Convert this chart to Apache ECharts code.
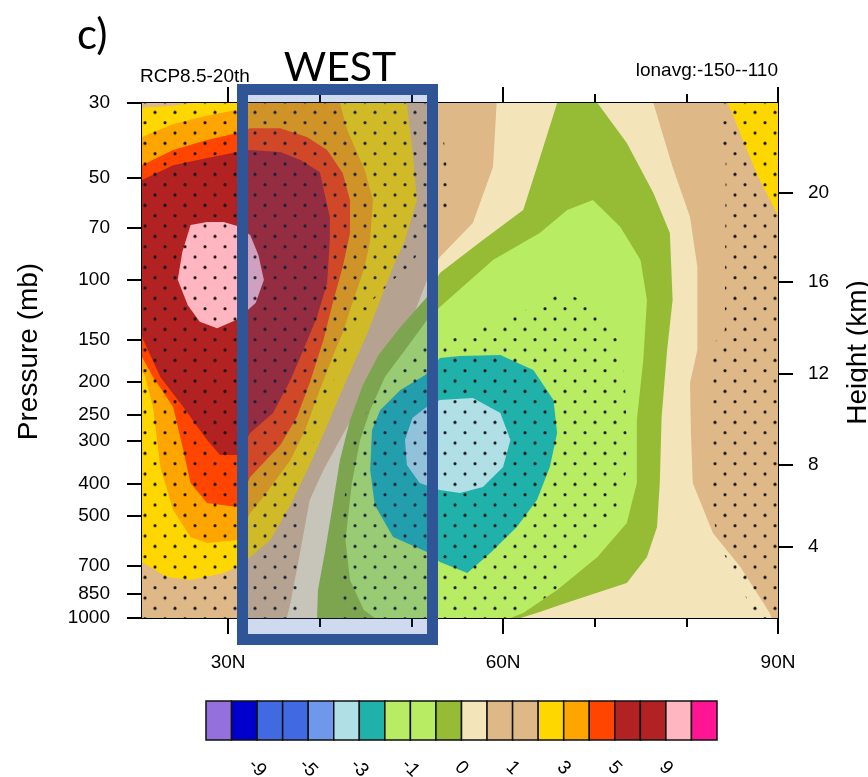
<!DOCTYPE html>
<html>
<head>
<meta charset="utf-8">
<title>RCP8.5-20th lonavg cross section</title>
<script src="https://cdn.jsdelivr.net/npm/echarts@6/dist/echarts.min.js"></script>
<style>
  html, body { margin: 0; padding: 0; background: #fff; }
  #chart { width: 868px; height: 777px; }
</style>
</head>
<body>
<div id="chart"></div>
<script>
// axis ticks
const pressureTicks = [30, 50, 70, 100, 150, 200, 250, 300, 400, 500, 700, 850, 1000];
const heightTicks = [4, 8, 12, 16, 20];
const heightTickPressure = [617, 353, 189, 101.5, 55.4]; // where each km tick sits (mb)
const latMajor = [30, 60, 90];
const latMinor = [40, 50, 70, 80];

// contour levels and the 20 fill colours of the label bar
const levels = [-11, -9, -7, -5, -4, -3, -2, -1, -0.5, 0, 0.5, 1, 2, 3, 4, 5, 7, 9, 11];
const fillColors = [
  '#9370DB', '#0000CD', '#4169E1', '#4169E1', '#6F98EC', '#B0E0E6', '#20B2AA',
  '#B8EC62', '#B8EC62', '#95BC34', '#F4E4BA', '#DEB887', '#DEB887', '#FFD700',
  '#FFA500', '#FF4500', '#B22222', '#B22222', '#FFB6C1', '#FF1493'
];

// filled contour regions, [lat, pressure mb]
const regionBase = [[20.6, 30], [90, 30], [90, 1000], [20.6, 1000]];
const regionWheat = [[59.3, 30], [76.4, 30], [78.5, 46.4], [80.4, 65.2], [81.2, 91.6], [81.2, 161.3],
  [80.4, 201.9], [80.5, 283.8], [80.7, 398.9], [82.9, 560.7], [85.9, 706.7], [89.1, 966.6], [89.3, 1000],
  [36.4, 1000], [36.8, 902.6], [37.9, 629.5], [38.9, 447.8], [40.4, 365.1], [42.0, 303.8], [44.6, 226.7],
  [47.7, 161.3], [49.5, 143.6], [51.7, 100.1], [53.1, 85.6], [56.7, 67.9], [58.9, 46.4]];
const regionYellowGreen = [[65.9, 30], [70.3, 30], [73.5, 39.4], [76.4, 55.4], [78.2, 72.7], [78.5, 114.7],
  [77.9, 161.3], [77.3, 254.5], [77.1, 398.9], [76.8, 538.3], [75.7, 660.2], [73.5, 788.1], [69.5, 855.1],
  [66.2, 915.4], [64.0, 960.1], [61.9, 1000], [39.7, 1000], [39.8, 826.5], [40.6, 629.5], [41.5, 447.8],
  [42.2, 341.0], [43.3, 259.7], [44.7, 204.6], [46.4, 166.8], [48.8, 137.9], [51.7, 112.4], [53.1, 95.5],
  [57.8, 76.2], [62.2, 62.2], [63.7, 46.4]];
const regionLightGreen = [[53.1, 120.3], [58.9, 87.4], [64.0, 72.7], [67.0, 62.2], [69.8, 58.1], [72.8, 69.8],
  [75.0, 87.4], [75.7, 114.7], [75.3, 172.6], [74.6, 259.7], [74.6, 398.9], [73.5, 523.8], [70.3, 660.2],
  [65.9, 826.5], [62.2, 966.6], [60.8, 1000], [46.0, 1000], [44.8, 947.1], [43.3, 772.1], [42.8, 588.0],
  [43.5, 398.9], [44.4, 297.6], [45.5, 242.6], [47.1, 193.8], [49.3, 161.3], [51.7, 131.5]];
const regionTeal = [[46.6, 242.6], [48.8, 211.7], [51.5, 191.2], [53.1, 170.3], [55.3, 168.0], [59.7, 166.8],
  [63.3, 184.8], [65.5, 226.7], [65.9, 283.8], [65.1, 357.7], [63.7, 447.8], [61.5, 538.3], [58.6, 642.5],
  [56.1, 736.2], [53.1, 683.1], [51.7, 638.1], [48.0, 576.2], [46.0, 463.3], [45.5, 365.1], [45.7, 278.0]];
const regionPowderBlue = [[49.3, 297.6], [50.1, 256.2], [51.5, 239.4], [53.1, 226.7], [56.7, 223.6],
  [59.7, 247.6], [60.8, 297.6], [60.0, 357.7], [57.8, 409.9], [55.3, 427.0], [53.1, 418.3], [50.9, 398.9],
  [49.5, 352.8]];
const regionGold = [[20.6, 31.0], [23.7, 30.6], [26.2, 30], [49.5, 30], [50.1, 41.3], [50.6, 58.1],
  [49.3, 76.2], [48.0, 91.6], [46.6, 114.7], [45.2, 143.6], [43.9, 172.6], [42.2, 219.1], [40.6, 278.0],
  [38.9, 352.8], [36.8, 463.3], [34.6, 588.0], [32.4, 660.2], [31.0, 706.7], [29.5, 736.2], [25.9, 772.1],
  [23.3, 756.5], [20.6, 683.1]];
const regionOrange = [[20.6, 37.8], [24.0, 34.6], [27.7, 32.7], [31.0, 31.4], [32.4, 30], [42.2, 30],
  [43.0, 36.1], [44.9, 47.3], [45.8, 58.1], [45.5, 76.2], [44.9, 91.6], [43.3, 122.8], [42.5, 143.6],
  [41.7, 161.3], [40.0, 211.7], [38.4, 278.0], [36.8, 341.0], [34.0, 432.8], [32.4, 489.3], [31.0, 588.0],
  [27.7, 600.2], [25.9, 576.2], [24.0, 479.4], [22.6, 357.7], [21.8, 237.7], [20.9, 191.2], [20.6, 187.3]];
const regionOrangeRed = [[20.6, 45.8], [24.0, 41.3], [27.7, 38.6], [31.0, 36.8], [32.4, 35.6], [35.7, 35.6],
  [38.6, 37.8], [40.8, 41.3], [42.5, 48.3], [43.3, 58.1], [43.3, 72.7], [42.5, 91.6], [41.5, 114.7],
  [40.4, 150.6], [38.9, 201.9], [37.5, 254.5], [35.7, 307.9], [32.4, 382.9], [31.0, 469.7], [27.7, 457.1],
  [25.9, 398.9], [25.1, 318.6], [24.0, 237.7], [21.8, 193.8], [20.6, 169.1]];
const regionFirebrick = [[20.6, 50.7], [24.0, 45.8], [27.7, 43.6], [31.0, 41.9], [32.4, 41.3], [35.7, 41.9],
  [37.9, 44.2], [40.0, 48.0], [41.1, 65.2], [41.1, 76.2], [40.8, 102.2], [39.7, 128.8], [38.2, 161.3],
  [36.8, 197.8], [34.9, 247.6], [32.4, 283.8], [31.0, 329.6], [29.1, 329.6], [27.7, 297.6], [25.1, 237.7],
  [22.6, 193.8], [21.5, 166.8], [20.6, 147.6]];
const regionPink = [[25.9, 68.8], [27.7, 67.5], [29.5, 67.5], [31.0, 69.3], [32.4, 73.7], [33.3, 84.5],
  [33.9, 100.1], [33.0, 117.0], [31.0, 131.0], [28.8, 139.0], [26.9, 133.0], [25.6, 119.0], [24.5, 100.0],
  [25.0, 82.7]];
const regionGoldNE = [[84.5, 30], [90, 30], [90, 64.3], [88.0, 50.7], [86.6, 41.3], [85.3, 33.7]];

// stippled (significant) areas
const stippleWest = [[20.6, 30], [53.1, 30], [53.9, 47.3], [53.9, 64.3], [52.0, 73.7], [49.9, 90.4],
  [48.0, 100.1], [45.8, 114.7], [43.6, 150.6], [42.5, 184.8], [41.5, 197.8], [40.4, 242.6], [39.3, 303.8],
  [38.2, 348.1], [37.9, 447.8], [37.6, 1000], [20.6, 1000]];
const stippleCentral = [[66.5, 109.4], [68.7, 114.7], [71.1, 133.3], [72.5, 150.6], [73.3, 197.8],
  [73.5, 283.8], [73.4, 372.6], [72.4, 469.7], [70.3, 549.3], [68.1, 629.5], [66.9, 697.2], [65.8, 826.5],
  [62.4, 960.1], [60.2, 1000], [42.2, 1000], [42.2, 608.4], [43.3, 303.8], [44.9, 251.0], [47.1, 204.6],
  [48.8, 184.8], [50.7, 161.3], [54.2, 146.6], [57.5, 138.8], [60.8, 129.7], [64.0, 117.1]];
const stippleEast = [[83.9, 30], [90, 30], [90, 1000], [87.7, 1000], [85.5, 772.1], [83.9, 629.5],
  [82.8, 496.0], [82.4, 161.3], [84.2, 140.7], [84.3, 41.3], [83.1, 34.8]];

const fieldRegions = [
  { band: 12, pts: regionBase },
  { band: 10, pts: regionWheat },
  { band: 9, pts: regionYellowGreen },
  { band: 8, pts: regionLightGreen },
  { band: 6, pts: regionTeal },
  { band: 5, pts: regionPowderBlue },
  { band: 13, pts: regionGold },
  { band: 14, pts: regionOrange },
  { band: 15, pts: regionOrangeRed },
  { band: 16, pts: regionFirebrick },
  { band: 18, pts: regionPink },
  { band: 13, pts: regionGoldNE }
];
const stippleRegions = [stippleWest, stippleCentral, stippleEast];

const fontFamily = '"Liberation Sans", Arial, sans-serif';
const lp = (p) => Math.log10(p);

// dot tile for stippling (staggered, 20px x 10.33px)
const dotTile = document.createElement('canvas');
dotTile.width = 20;
dotTile.height = 62;
const tctx = dotTile.getContext('2d');
tctx.fillStyle = '#111';
for (let i = 0; i < 6; i++) {
  tctx.beginPath();
  tctx.arc(i % 2 ? 15 : 5, 5.17 + i * 62 / 6, 1.55, 0, Math.PI * 2);
  tctx.fill();
}

const chart = echarts.init(document.getElementById('chart'));

const blackLine = { show: true, lineStyle: { color: '#000', width: 2 } };
const noSplit = { show: false };

function latAxis(position, ticks, len, withLabels) {
  return {
    gridIndex: 0, type: 'value', min: 20.6, max: 90, position: position,
    axisLine: blackLine, splitLine: noSplit,
    axisTick: { show: true, customValues: ticks, length: len, lineStyle: { color: '#000', width: 2 } },
    axisLabel: withLabels
      ? { show: true, customValues: ticks, formatter: (v) => v + 'N', fontSize: 19, color: '#000', margin: 35, fontFamily: fontFamily }
      : { show: false }
  };
}

const option = {
  animation: false,
  backgroundColor: '#fff',
  textStyle: { fontFamily: fontFamily },
  grid: [
    { left: 142, top: 103, width: 636, height: 515, outerBoundsMode: 'none', containLabel: false },
    { left: 206, top: 701, width: 511, height: 39, outerBoundsMode: 'none', containLabel: false }
  ],
  xAxis: [
    latAxis('bottom', latMajor, 16, true),
    latAxis('bottom', latMinor, 9, false),
    latAxis('top', latMajor, 16, false),
    latAxis('top', latMinor, 9, false),
    {
      gridIndex: 1, type: 'value', min: 0, max: 20,
      axisLine: { show: false }, axisTick: { show: false }, splitLine: noSplit,
      axisLabel: {
        customValues: [2, 4, 6, 8, 10, 12, 14, 16, 18],
        formatter: (v) => String(levels[Math.round(v) - 1]),
        rotate: -45, align: 'center', verticalAlign: 'middle',
        margin: 28, fontSize: 19, color: '#000', fontFamily: fontFamily
      }
    }
  ],
  yAxis: [
    {
      gridIndex: 0, type: 'value', inverse: true, min: lp(30), max: lp(1000), position: 'left',
      axisLine: blackLine, splitLine: noSplit,
      axisTick: { customValues: pressureTicks.map(lp), length: 15, lineStyle: { color: '#000', width: 2 } },
      axisLabel: {
        customValues: pressureTicks.map(lp),
        formatter: (v) => String(Math.round(Math.pow(10, v))),
        fontSize: 19, color: '#000', margin: 32, fontFamily: fontFamily
      },
      name: 'Pressure (mb)', nameLocation: 'middle', nameGap: 99,
      nameTextStyle: { fontSize: 28, color: '#000', fontFamily: fontFamily, padding: [0, 0, 0, 18] }
    },
    {
      gridIndex: 0, type: 'value', inverse: true, min: lp(30), max: lp(1000), position: 'right',
      axisLine: blackLine, splitLine: noSplit,
      axisTick: { customValues: heightTickPressure.map(lp), length: 15, lineStyle: { color: '#000', width: 2 } },
      axisLabel: {
        customValues: heightTickPressure.map(lp),
        formatter: (v) => {
          const i = heightTickPressure.findIndex((p) => Math.abs(lp(p) - v) < 1e-6);
          return i < 0 ? '' : String(heightTicks[i]);
        },
        fontSize: 19, color: '#000', margin: 30, fontFamily: fontFamily
      },
      name: 'Height (km)', nameLocation: 'middle', nameGap: 66,
      nameTextStyle: { fontSize: 28, color: '#000', fontFamily: fontFamily, padding: [0, 0, 0, 16] }
    },
    { gridIndex: 1, type: 'value', min: 0, max: 1, show: false }
  ],
  series: [
    {
      // shaded contour regions
      type: 'custom', xAxisIndex: 0, yAxisIndex: 0, clip: true, silent: true, z: 2,
      data: fieldRegions.map((r, i) => [r.pts[0][0], lp(r.pts[0][1]), i]),
      renderItem: (params, api) => {
        const r = fieldRegions[params.dataIndex];
        return {
          type: 'polygon',
          shape: { points: r.pts.map((pt) => api.coord([pt[0], lp(pt[1])])) },
          style: { fill: fillColors[r.band], stroke: null }
        };
      }
    },
    {
      // stippling
      type: 'custom', xAxisIndex: 0, yAxisIndex: 0, clip: true, silent: true, z: 3,
      data: stippleRegions.map((r, i) => [r[0][0], lp(r[0][1]), i]),
      renderItem: (params, api) => {
        const r = stippleRegions[params.dataIndex];
        return {
          type: 'polygon',
          shape: { points: r.map((pt) => api.coord([pt[0], lp(pt[1])])) },
          style: { fill: { image: dotTile, repeat: 'repeat', x: 10, y: 45.13 }, stroke: null }
        };
      }
    },
    {
      // label bar
      type: 'custom', xAxisIndex: 4, yAxisIndex: 2, silent: true,
      data: fillColors.map((c, i) => [i, 0, i]),
      renderItem: (params, api) => {
        const i = params.dataIndex;
        const a = api.coord([i, 1]);
        const b = api.coord([i + 1, 0]);
        return {
          type: 'rect',
          shape: { x: a[0], y: a[1], width: b[0] - a[0], height: b[1] - a[1] },
          style: { fill: fillColors[i], stroke: '#111', lineWidth: 1.5 }
        };
      }
    }
  ],
  graphic: [
    {
      type: 'rect', z: 100,
      shape: { x: 242.5, y: 89.5, width: 190, height: 550 },
      style: { fill: 'rgba(40,85,180,0.22)', stroke: '#2F5597', lineWidth: 11 }
    },
    {
      type: 'text', z: 100, x: 77, y: 35,
      style: { text: 'c)', font: '42px Lato, "Liberation Sans", sans-serif', fill: '#000', textAlign: 'left', textVerticalAlign: 'middle' }
    },
    {
      type: 'text', z: 100, x: 340, y: 68,
      style: { text: 'WEST', font: '41px Lato, "Liberation Sans", sans-serif', fill: '#000', textAlign: 'center', textVerticalAlign: 'middle' }
    },
    {
      type: 'text', z: 100, x: 140, y: 77,
      style: { text: 'RCP8.5-20th', font: '19px ' + fontFamily, fill: '#000', textAlign: 'left', textVerticalAlign: 'middle' }
    },
    {
      type: 'text', z: 100, x: 778, y: 71,
      style: { text: 'lonavg:-150--110', font: '19px ' + fontFamily, fill: '#000', textAlign: 'right', textVerticalAlign: 'middle' }
    }
  ]
};

chart.setOption(option);
</script>
</body>
</html>
